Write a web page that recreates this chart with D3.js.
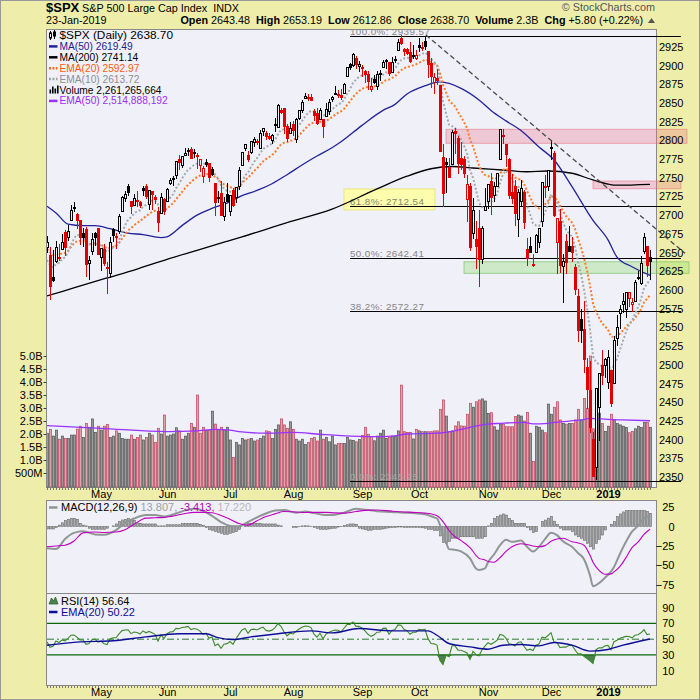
<!DOCTYPE html>
<html>
<head>
<meta charset="utf-8">
<title>$SPX Daily</title>
<script src="https://cdn.jsdelivr.net/npm/d3@7"></script>
<style>
  body { margin: 0; background: #fff; }
  svg text { font-family: "Liberation Sans", Arial, sans-serif; }
</style>
</head>
<body>
<script>
// ---------- data: trading days Apr 5 2018 .. Jan 23 2019 ----------
var monthKeys = ["2018-04","2018-05","2018-06","2018-07","2018-08","2018-09","2018-10","2018-11","2018-12","2019-01"];
var monthDayLists = [
  [5,6,9,10,11,12,13,16,17,18,19,20,23,24,25,26,27,30],
  [1,2,3,4,7,8,9,10,11,14,15,16,17,18,21,22,23,24,25,29,30,31],
  [1,4,5,6,7,8,11,12,13,14,15,18,19,20,21,22,25,26,27,28,29],
  [2,3,5,6,9,10,11,12,13,16,17,18,19,20,23,24,25,26,27,30,31],
  [1,2,3,6,7,8,9,10,13,14,15,16,17,20,21,22,23,24,27,28,29,30,31],
  [4,5,6,7,10,11,12,13,14,17,18,19,20,21,24,25,26,27,28],
  [1,2,3,4,5,8,9,10,11,12,15,16,17,18,19,22,23,24,25,26,29,30,31],
  [1,2,5,6,7,8,9,12,13,14,15,16,19,20,21,23,26,27,28,29,30],
  [3,4,6,7,10,11,12,13,14,17,18,19,20,21,24,26,27,28,31],
  [2,3,4,7,8,9,10,11,14,15,16,17,18,22,23]
];
var monthLabels = ["May","Jun","Jul","Aug","Sep","Oct","Nov","Dec","2019"];
var monthLabelDates = ["2018-05-01","2018-06-01","2018-07-02","2018-08-01","2018-09-04","2018-10-01","2018-11-01","2018-12-03","2019-01-02"];

var opens = [2657.36,2645.82,2617.18,2638.41,2643.89,2653.83,2676.90,2670.10,2692.74,2710.11,
 2701.16,2692.56,2675.40,2680.80,2634.92,2651.65,2675.47,2682.51,2642.96,2654.24,
 2628.08,2621.45,2680.34,2670.26,2678.12,2705.02,2722.70,2738.47,2718.59,2712.62,
 2719.71,2717.35,2735.39,2738.34,2713.98,2730.94,2723.60,2705.11,2702.43,2720.98,
 2718.70,2741.67,2748.46,2753.25,2774.84,2765.84,2780.18,2785.60,2787.94,2783.21,
 2777.78,2765.79,2752.01,2769.73,2769.28,2760.79,2742.94,2722.12,2728.45,2698.69,
 2727.13,2704.95,2733.27,2724.19,2737.68,2765.79,2788.56,2779.82,2783.14,2796.93,
 2797.36,2789.34,2811.35,2809.37,2804.55,2799.17,2820.68,2817.73,2839.29,2842.35,
 2819.00,2809.73,2821.17,2800.48,2829.62,2840.29,2855.92,2856.79,2857.19,2838.90,
 2835.46,2827.88,2827.95,2831.44,2838.32,2853.93,2861.51,2860.99,2860.29,2862.35,
 2884.69,2901.45,2900.62,2908.94,2898.37,2896.96,2891.59,2888.64,2868.26,2881.39,
 2871.57,2888.29,2896.85,2906.38,2903.83,2890.74,2906.60,2919.73,2936.76,2921.83,
 2921.75,2916.98,2911.65,2910.03,2926.29,2923.80,2931.69,2919.35,2902.54,2877.53,
 2882.51,2873.90,2776.87,2770.54,2763.83,2767.05,2811.67,2802.00,2775.66,2773.94,
 2721.03,2737.87,2674.88,2667.86,2682.65,2640.68,2705.60,2717.58,2745.45,2726.37,
 2738.40,2774.13,2806.38,2794.10,2773.93,2730.05,2737.90,2693.52,2718.54,2730.74,
 2654.60,2657.74,2633.36,2649.97,2663.75,2691.45,2736.97,2737.76,2790.50,2782.43,
 2663.51,2691.26,2630.86,2664.44,2658.23,2658.70,2629.68,2590.75,2559.90,2547.05,
 2496.77,2465.38,2400.56,2363.12,2442.50,2498.77,2498.94,2476.96,2491.92,2474.33,
 2535.61,2568.11,2580.00,2573.51,2588.11,2580.31,2585.10,2614.75,2609.28,2651.27,
 2657.88,2643.48];
var highs = [2672.08,2656.88,2653.55,2665.45,2661.43,2674.72,2680.26,2686.49,2713.34,2717.49,
 2702.84,2693.94,2682.86,2683.55,2645.30,2676.48,2677.35,2682.87,2655.27,2660.87,
 2637.14,2670.93,2683.35,2676.34,2701.27,2726.11,2732.86,2742.10,2718.59,2727.76,
 2731.96,2719.50,2739.19,2742.24,2733.33,2731.97,2727.36,2710.67,2729.34,2722.50,
 2736.93,2749.16,2752.61,2772.39,2779.90,2779.39,2790.21,2789.80,2791.47,2789.06,
 2782.81,2774.99,2765.05,2774.86,2769.28,2764.17,2742.94,2732.91,2746.09,2724.34,
 2743.26,2727.26,2736.58,2737.83,2764.41,2784.65,2795.58,2785.91,2799.22,2804.53,
 2801.19,2814.19,2816.76,2812.05,2809.70,2808.61,2829.99,2848.03,2842.88,2843.17,
 2821.74,2824.46,2825.83,2829.91,2840.38,2853.29,2863.43,2862.44,2862.48,2842.20,
 2843.40,2843.11,2827.95,2850.49,2855.63,2859.76,2873.23,2867.54,2868.78,2876.16,
 2898.25,2903.77,2916.50,2912.46,2906.32,2900.18,2894.21,2892.05,2883.81,2886.93,
 2892.52,2894.65,2906.76,2908.30,2904.65,2911.17,2912.36,2934.80,2940.91,2923.79,
 2923.95,2931.15,2927.22,2920.53,2937.06,2931.42,2939.86,2919.78,2909.64,2889.45,
 2894.83,2874.02,2795.14,2775.77,2775.99,2813.46,2816.94,2806.04,2797.77,2778.94,
 2753.59,2742.59,2722.70,2692.38,2706.85,2685.43,2736.69,2741.67,2756.55,2744.27,
 2756.82,2815.15,2814.75,2794.10,2775.99,2754.60,2746.80,2735.38,2746.75,2733.16,
 2669.44,2670.73,2647.55,2674.35,2682.53,2744.00,2753.75,2760.88,2800.18,2785.93,
 2696.15,2708.54,2647.51,2674.35,2685.44,2670.19,2635.07,2601.13,2573.99,2585.29,
 2509.63,2504.41,2410.34,2467.76,2489.10,2520.27,2509.24,2519.49,2493.14,2538.07,
 2566.16,2579.82,2595.32,2597.82,2596.27,2589.32,2613.08,2625.76,2645.06,2675.47,
 2657.88,2653.19];
var lows = [2649.58,2586.27,2610.79,2635.78,2639.25,2653.83,2645.05,2665.16,2692.05,2703.63,
 2681.90,2660.61,2657.99,2617.32,2612.67,2647.16,2659.01,2648.04,2625.41,2631.70,
 2594.62,2615.32,2664.70,2655.20,2674.14,2704.54,2717.45,2725.47,2701.91,2712.17,
 2711.36,2709.18,2725.70,2721.88,2707.10,2707.38,2714.99,2676.81,2702.43,2700.68,
 2718.70,2740.54,2739.51,2748.46,2760.16,2763.59,2780.17,2778.78,2774.65,2776.52,
 2761.73,2757.12,2743.19,2763.91,2744.39,2752.68,2698.67,2715.60,2699.38,2691.99,
 2718.03,2698.95,2711.16,2716.02,2733.52,2765.79,2786.24,2770.77,2781.53,2791.69,
 2793.39,2789.24,2805.89,2799.77,2800.01,2795.14,2811.12,2817.73,2835.57,2808.34,
 2798.11,2808.06,2805.85,2796.34,2827.37,2835.98,2855.92,2853.09,2851.98,2825.81,
 2819.88,2826.58,2802.49,2831.44,2833.73,2850.62,2861.32,2856.05,2854.03,2862.35,
 2884.69,2893.50,2898.40,2895.22,2891.73,2885.13,2876.92,2867.29,2864.12,2875.94,
 2866.78,2879.20,2896.39,2895.77,2886.16,2890.43,2903.82,2919.73,2927.11,2912.63,
 2913.70,2903.28,2909.27,2907.50,2917.91,2919.37,2921.36,2883.92,2869.29,2862.08,
 2874.27,2784.86,2710.51,2729.44,2749.03,2766.91,2781.81,2755.18,2760.27,2749.22,
 2691.43,2651.89,2667.84,2628.16,2603.54,2635.34,2705.60,2708.85,2700.44,2717.94,
 2737.08,2774.13,2794.99,2764.24,2722.00,2714.98,2685.75,2670.75,2712.16,2681.09,
 2631.52,2649.82,2631.09,2649.97,2655.89,2684.38,2722.94,2732.76,2773.38,2697.18,
 2621.53,2623.14,2583.23,2621.30,2650.26,2637.27,2593.84,2530.54,2528.71,2488.96,
 2441.18,2408.55,2351.10,2346.58,2397.94,2472.89,2482.82,2467.47,2443.96,2474.33,
 2524.56,2547.56,2568.89,2562.02,2577.40,2570.41,2585.10,2612.68,2606.36,2647.58,
 2617.27,2612.86];
var closes = [2662.84,2604.47,2613.16,2656.87,2642.19,2663.99,2656.30,2677.84,2706.39,2708.64,
 2693.13,2670.14,2670.29,2634.56,2639.40,2666.94,2669.91,2648.05,2654.80,2635.67,
 2629.73,2663.42,2672.63,2671.92,2697.79,2723.07,2727.72,2730.13,2711.45,2722.46,
 2720.13,2712.97,2733.01,2724.44,2733.29,2727.76,2721.33,2689.86,2724.01,2705.27,
 2734.62,2746.87,2748.80,2772.35,2770.37,2779.03,2782.00,2786.85,2775.63,2782.49,
 2779.66,2773.75,2762.59,2767.32,2749.76,2754.88,2717.07,2723.06,2699.63,2716.31,
 2718.37,2726.71,2713.22,2736.61,2759.82,2784.17,2793.84,2774.02,2798.29,2801.31,
 2798.43,2809.55,2815.62,2804.49,2801.83,2806.98,2820.40,2846.07,2837.44,2818.82,
 2802.60,2816.29,2813.36,2827.22,2840.35,2850.40,2858.45,2857.70,2853.58,2833.28,
 2821.93,2839.96,2818.37,2840.69,2850.13,2857.05,2862.96,2861.82,2856.98,2874.69,
 2896.74,2897.52,2914.04,2901.13,2901.52,2896.72,2888.60,2878.05,2871.68,2877.13,
 2887.89,2888.92,2904.18,2904.98,2888.80,2904.31,2907.95,2930.75,2929.67,2919.37,
 2915.56,2905.97,2914.00,2913.98,2924.59,2923.43,2925.51,2901.61,2885.57,2884.43,
 2880.34,2785.68,2728.37,2767.13,2750.79,2809.92,2809.21,2768.78,2767.78,2755.88,
 2740.69,2656.10,2705.57,2658.69,2641.25,2682.63,2711.74,2740.37,2723.06,2738.31,
 2755.45,2813.89,2806.83,2781.01,2726.22,2722.18,2701.58,2730.20,2736.27,2690.73,
 2641.89,2649.93,2632.56,2673.45,2682.17,2743.79,2737.80,2760.17,2790.37,2700.06,
 2695.95,2633.08,2637.72,2636.78,2651.07,2650.54,2599.95,2545.94,2546.16,2506.96,
 2467.42,2416.62,2351.10,2467.70,2488.83,2485.74,2506.85,2510.03,2447.89,2531.94,
 2549.69,2574.41,2584.96,2596.64,2596.26,2582.61,2610.30,2616.10,2635.96,2670.71,
 2632.90,2638.70];
// volume, billions of shares
var volumes = [2.03,2.18,1.92,2.15,1.80,1.92,1.83,1.83,1.96,1.96,
 2.19,2.30,1.87,2.41,2.26,2.58,2.06,2.30,2.15,2.30,
 2.37,1.87,1.92,2.12,2.03,1.83,1.80,1.80,1.96,1.80,
 1.87,1.96,1.77,1.87,2.03,1.96,1.68,2.22,2.00,2.73,
 1.92,1.96,2.00,2.24,2.12,1.80,1.92,2.03,2.41,2.26,
 3.50,2.03,2.26,2.13,2.13,2.88,2.38,2.18,2.26,2.15,
 2.26,1.77,1.10,1.68,1.58,1.83,1.77,1.80,1.83,1.73,
 1.77,1.83,1.92,2.12,2.09,1.83,2.18,2.35,2.58,2.35,
 2.22,2.47,2.18,1.80,1.73,1.80,1.60,1.67,1.83,1.86,
 1.73,2.15,1.80,1.87,1.70,1.92,1.58,1.64,1.64,1.64,
 1.87,1.77,1.75,1.70,1.79,1.94,2.26,1.99,1.90,1.74,
 1.92,2.03,2.15,1.83,1.87,1.92,1.92,2.12,3.88,2.09,
 2.06,2.06,1.81,2.18,2.12,2.09,2.09,2.09,2.09,2.12,
 2.12,2.95,3.31,2.69,2.09,2.12,2.31,2.47,2.31,2.30,
 2.76,3.18,3.03,3.24,3.31,3.35,3.27,2.79,2.82,2.28,
 2.15,2.38,2.38,2.28,2.28,2.28,2.67,2.73,2.69,2.50,
 2.83,2.03,0.94,2.30,2.26,2.15,2.05,3.15,2.76,3.03,
 3.24,2.54,2.41,2.38,2.41,2.41,2.54,2.95,2.54,3.37,
 2.99,5.00,2.20,2.90,2.80,2.40,2.10,2.30,2.76,2.54,
 2.40,2.35,2.30,2.25,2.05,2.10,2.20,2.30,2.25,2.45,
 2.45,2.26];

// overlays
var ema10 = [2640,2633.5,2629.8,2634.7,2636.1,2641.2,2643.9,2650.1,2660.3,2669.1,
 2673.5,2672.9,2672.4,2665.5,2660.8,2661.9,2663.4,2660.6,2659.5,2655.2,
 2650.6,2652.9,2656.5,2659.3,2666.3,2676.6,2685.9,2693.9,2697.1,2701.7,
 2705.1,2706.5,2711.3,2713.7,2717.3,2719.2,2719.6,2714.2,2716.0,2714.0,
 2717.8,2723.1,2727.8,2735.9,2742.2,2748.9,2754.9,2760.7,2763.4,2766.9,
 2769.2,2770.0,2768.7,2768.4,2765.0,2763.2,2754.8,2749.0,2740.0,2735.7,
 2732.5,2731.5,2728.2,2729.7,2735.2,2744.1,2753.1,2756.9,2764.4,2771.1,
 2776.1,2782.2,2788.3,2791.2,2793.1,2795.6,2800.1,2808.5,2813.8,2814.7,
 2812.5,2813.2,2813.2,2815.7,2820.2,2825.7,2831.7,2836.4,2839.5,2838.4,
 2835.4,2836.2,2833.0,2834.4,2837.3,2840.9,2844.9,2848.0,2849.6,2854.2,
 2861.9,2868.4,2876.7,2881.1,2884.8,2887.0,2887.3,2885.6,2883.1,2882.0,
 2883.1,2884.2,2887.8,2890.9,2890.5,2893.0,2895.7,2902.1,2907.1,2909.3,
 2910.4,2909.6,2910.4,2911.1,2913.6,2915.4,2917.2,2914.4,2909.2,2904.7,
 2900.3,2879.5,2852.0,2836.6,2821.0,2819.0,2817.2,2808.4,2801.0,2792.8,
 2783.3,2760.2,2750.3,2733.6,2716.8,2710.6,2710.8,2716.2,2717.4,2721.2,
 2727.4,2743.1,2754.7,2759.5,2753.4,2747.7,2739.3,2737.6,2737.4,2728.9,
 2713.1,2701.6,2689.1,2686.3,2685.5,2696.1,2703.7,2714.0,2727.9,2722.8,
 2717.9,2702.5,2690.7,2680.9,2675.5,2671.0,2658.1,2637.7,2621.1,2600.4,
 2576.2,2547.2,2511.5,2503.5,2500.8,2498.1,2499.7,2501.6,2491.8,2499.1,
 2508.3,2520.3,2532.1,2543.8,2553.3,2558.6,2568.0,2576.7,2587.5,2602.6,
 2608.1,2613.72];
var ema20 = [2655.0,2650.2,2646.7,2647.7,2647.2,2648.8,2649.5,2652.2,2657.4,2662.3,
 2665.2,2665.7,2666.1,2663.1,2660.8,2661.4,2662.2,2660.9,2660.3,2657.9,
 2655.3,2656.0,2657.6,2659.0,2662.7,2668.4,2674.1,2679.4,2682.5,2686.3,
 2689.5,2691.7,2695.6,2698.4,2701.7,2704.2,2705.8,2704.3,2706.2,2706.1,
 2708.8,2712.4,2715.9,2721.2,2725.9,2731.0,2735.8,2740.7,2744.0,2747.7,
 2750.7,2752.9,2753.8,2755.1,2754.6,2754.6,2751.0,2748.4,2743.7,2741.1,
 2739.0,2737.8,2735.5,2735.6,2737.9,2742.3,2747.2,2749.8,2754.4,2758.9,
 2762.6,2767.1,2771.7,2774.8,2777.4,2780.2,2784.0,2789.9,2794.4,2796.7,
 2797.3,2799.1,2800.5,2803.0,2806.6,2810.8,2815.3,2819.3,2822.6,2823.6,
 2823.4,2825.0,2824.4,2825.9,2828.2,2831.0,2834.0,2836.7,2838.6,2842.0,
 2847.2,2852.0,2857.9,2862.0,2865.8,2868.7,2870.6,2871.3,2871.3,2871.9,
 2873.4,2874.9,2877.7,2880.3,2881.1,2883.3,2885.7,2890.0,2893.7,2896.2,
 2898.0,2898.8,2900.2,2901.5,2903.7,2905.6,2907.5,2906.9,2904.9,2903.0,
 2900.8,2889.8,2874.5,2864.3,2853.5,2849.3,2845.5,2838.2,2831.5,2824.3,
 2816.3,2801.1,2792.0,2779.3,2766.2,2758.2,2753.8,2752.5,2749.7,2748.6,
 2749.3,2755.4,2760.3,2762.3,2758.9,2755.4,2750.3,2748.4,2747.2,2741.8,
 2732.3,2724.5,2715.7,2711.7,2708.9,2712.2,2714.6,2718.9,2725.7,2723.3,
 2720.7,2712.4,2705.3,2698.8,2694.3,2690.1,2681.5,2668.6,2657.0,2642.7,
 2626.0,2606.1,2581.8,2570.9,2563.1,2555.7,2551.1,2547.2,2537.7,2537.2,
 2538.4,2541.8,2545.9,2550.7,2555.1,2557.7,2562.7,2567.8,2574.3,2583.5,
 2588.2,2592.97];
var ma50Days = [0,3,7,12,16,21,27,32,38,40,45,50,55,60,65,70,75,80,85,90,95,98,105,112,116,120,126,131,138,144,148,153,158,164,169,175,182,187,190,195,201];
var ma50Vals = [2712,2703,2688,2686,2686,2682,2676,2674,2670,2671,2686,2700,2709,2716,2726,2733,2742,2754,2767,2779,2790,2798,2820,2840,2848,2862,2873,2878,2869.5,2854,2840,2826,2813,2791,2774,2738,2693,2667,2644,2631,2619.49];
var ma200Days = [0,10,20,30,40,50,60,65,80,95,110,120,128,135,142,153,160,167,175,182,190,201];
var ma200Vals = [2592,2604,2616,2628,2641,2653,2665,2671,2690,2708,2735,2752,2762,2765,2763,2760,2758,2759,2756,2747,2740,2741.14];
var volEmaDays = [0,18,40,50,56,61,64,73,82,91,98,109,115,120,130,137,142,147,151,159,162,167,171,178,181,187,192,201];
var volEmaVals = [2.32,2.22,2.09,2.12,2.18,2.15,2.09,2.03,2.06,1.99,1.94,1.90,1.92,2.00,2.03,2.15,2.28,2.38,2.41,2.45,2.39,2.41,2.47,2.54,2.60,2.56,2.54,2.51];

// MACD(12,26,9)
var macdDays = [0,3,6,9,12,16,19,23,26,29,33,36,39,43,46,49,52,55,58,61,64,67,70,73,76,79,83,86,89,93,96,99,103,106,110,115,119,122,126,129,130,131,132,133,134,136,138,141,143,144,146,147,149,151,153,155,158,160,162,164,166,168,170,172,175,177,179,181,182,184,186,188,189,191,193,195,197,199,201];
var macdVals = [-28,-29,-16,-8,-6,-10,-10.5,-4.5,5,10.5,15,15,13,17,21,23,20.5,14,6,1,0.5,6,12,17,21,21.5,18,19.5,17.5,15,15.5,18,23,22,20,19,18,17.5,16,12,10.5,2,-12,-20,-29,-30,-32,-41,-54,-56,-54,-46,-36,-24,-17,-19.5,-18,-26,-32,-26,-16,-8,-11,-19,-26,-34,-42,-63,-77,-73,-66,-58,-52,-35,-19.5,-6.5,1,10.5,13.807];
var signalVals = [-26,-25,-24,-18.5,-8,-7,-7.5,-7,-4,3,11,11.5,12,14.5,17,18.5,18.5,18,14.5,9.5,4,2,7.5,13,16.5,19.5,19,18.3,18.5,18.5,17.8,17.5,19.5,21,21.5,20,19,18.5,17.5,15.5,14,11,6.5,1,-5,-13,-18,-27,-37,-41,-43,-45,-46,-40,-32,-26,-22,-23,-25,-26,-24.5,-19,-16,-15,-19.5,-21,-24,-37,-46,-56.5,-61.5,-61,-58.5,-51.4,-40,-27,-20,-10,-3.413];
var macdHist = [-3,-3,-3,-1,2,5,8,9.5,10.8,10.8,
 9.5,4.3,2,1,-2,-3.5,-3.5,-3.5,-3.5,-3.5,
 -2,0,1,3.5,6.5,8.6,9.5,10.4,9.5,8,
 5,4.3,3.5,3.5,3.5,3.5,3.5,1,1,1,
 2.5,2.5,2.5,2.5,2.5,4,4,4,4,4.3,
 4,3,1.5,-1,-4,-5,-6.5,-7.5,-8.6,-10,
 -10,-8.6,-7.5,-6.5,-3.5,0,2,4.3,4.3,4.3,
 4.3,4.3,3.5,3.5,3.5,3.5,3.5,2,1,0,
 0,0,-1,-1,0.5,1,1.2,1,0.5,-1,
 -2.5,-3.5,-3.5,-3.5,-3,-2.5,-2,-0.5,0.5,1.5,
 2.5,3.5,3.5,3,-2,-3,-4,-5,-4.5,-3.5,
 -3.5,-3.5,-3,-2,-1.5,-1,-1,-0.5,-0.5,-1,
 -1,-1,-1,-1,-1,-1.5,-2,-3.5,-3.5,-5,
 -5,-12,-20.7,-21.6,-19.4,-15,-15,-15,-13,-13,
 -13,-13,-13,-15,-15,-15,-13,1,4.3,10.8,
 13,15,16.4,15,10.8,7.8,4.3,4.3,4.3,4.3,
 -1,-4.3,-7.8,-6.5,0,6.5,8.5,11,13,7,
 3,-2,-4.3,-4.3,-4.3,-6.5,-10.8,-13,-15,-18,
 -21.6,-26,-29,-21.6,-16.4,-10.8,-4.3,0,3,6.5,
 13,16.4,19,20.7,20.7,20.7,20.7,20.7,20.7,20.7,
 19.4,17.22];

// RSI(14) and its EMA(20)
var rsi = [46.6,39.7,41.1,47.7,45.8,49.0,47.9,51.1,55.1,55.4,
 52.7,49.0,49.0,43.4,44.4,49.4,50.0,46.2,47.5,44.2,
 43.1,50.2,51.9,51.8,56.7,60.9,61.6,62.0,57.1,59.2,
 58.5,56.5,60.6,58.1,59.9,58.2,56.2,47.4,55.5,50.8,
 56.9,59.2,59.6,63.8,63.2,64.8,65.3,66.2,62.2,63.6,
 62.6,60.3,56.1,57.5,51.2,52.8,41.8,43.8,38.3,43.7,
 44.4,47.1,43.5,50.6,56.5,61.7,63.5,57.4,62.2,62.8,
 61.8,64.0,65.3,61.2,60.3,61.5,64.7,69.8,66.3,59.4,
 54.2,57.6,56.6,60.0,63.0,65.2,66.8,66.5,64.7,56.5,
 52.5,57.6,50.6,56.5,58.7,60.3,61.7,61.3,59.3,63.9,
 68.6,68.7,71.9,66.3,66.3,64.2,60.6,56.2,53.6,55.4,
 58.9,59.2,63.8,64.1,56.3,61.2,62.3,68.2,67.7,62.6,
 60.8,56.3,58.9,58.9,62.5,61.9,62.6,50.7,44.6,44.1,
 42.6,23.0,17.7,29.6,27.8,41.7,41.6,36.1,35.9,34.4,
 32.5,24.3,34.7,30.4,29.0,36.6,41.3,45.6,43.5,45.9,
 48.5,56.1,55.1,51.3,44.2,43.7,41.3,45.8,46.7,41.0,
 35.9,37.3,35.5,42.4,43.8,52.6,51.7,54.7,58.3,46.3,
 45.8,39.3,40.0,39.9,42.2,42.1,36.4,31.5,31.6,28.4,
 25.5,22.4,19.2,36.7,39.2,39.0,41.7,42.2,36.6,46.8,
 48.7,51.2,52.3,53.6,53.5,51.7,55.0,55.7,58.1,62.0,
 55.9,56.64];
var rsiEmaDays = [0,11,22,33,44,53,57,62,68,77,88,95,104,115,127,130,134,141,147,152,158,164,169,175,181,187,192,201];
var rsiEmaVals = [42.4,46.6,48,53,57,57,52,49.6,53,57,60.6,58,63.5,60.6,60.6,55,44.5,40.3,37.3,42.4,43.2,41.5,45.8,42.4,34.8,37,42.4,50.22];

// annotations: Fibonacci retracement, boxes, trend line
var fibLabels = ["100.0%","61.8%","50.0%","38.2%","0.0%"];
var fibValues = [2939.57, 2712.54, 2642.41, 2572.27, 2345.25];
var fibSpan = [101, 211.3];
var redZone = {days: [133, 213.3], prices: [2796, 2814.7]};
var redZone2 = {days: [182, 211.3], prices: [2735.3, 2745.6]};
var greenZone = {days: [139, 214], prices: [2622.2, 2637.7]};
var fibNoteBox = {days: [99, 129.3], prices: [2707, 2735]};
var trendDays = [126.3, 212.7];
var trendPrices = [2940.8, 2648.9];

var priceTicks = d3.range(2350, 2926, 25);
var volTicks = [0.5,1,1.5,2,2.5,3,3.5,4,4.5,5];
var macdTicks = [25,0,-25,-50,-75];
var rsiTicks = [90,70,50,30,10];

// ---------- build ----------
var dates = [];
monthKeys.forEach(function(m, k){
  monthDayLists[k].forEach(function(d){ dates.push(m + "-" + (d < 10 ? "0" + d : d)); });
});
var N = dates.length;
var monthIdx = monthLabelDates.map(function(d){ return dates.indexOf(d); });

var BG = "#eeeeaa", PANEL = "#f0f0f8";
var P = {l: 47, r: 656, t: 29, b: 487};
var M = {t: 500, b: 593};
var R = {t: 593, b: 685};

var x = d3.scaleLinear().domain([0, N - 1]).range([47, 650]);
var yP = d3.scaleLinear().domain([2350, 2925]).range([477, 46.8]);
var yV = d3.scaleLinear().domain([0, 5]).range([486, 356]);
var yM = d3.scaleLinear().domain([-75, 25]).range([584.7, 507.3]);
var yR = d3.scaleLinear().domain([10, 90]).range([670.7, 607.7]);

var svg = d3.select("body").append("svg")
  .attr("width", 700).attr("height", 700);

svg.append("rect").attr("width", 700).attr("height", 700).attr("fill", BG);
svg.append("rect").attr("x", 0.5).attr("y", 0.5).attr("width", 699).attr("height", 699)
  .attr("fill", "none").attr("stroke", "#999");

// panels
[[P.t, P.b], [M.t, M.b], [R.t, R.b]].forEach(function(p){
  svg.append("rect").attr("x", 46.5).attr("y", p[0] + 0.5)
    .attr("width", 610).attr("height", p[1] - p[0])
    .attr("fill", PANEL).attr("stroke", "#888");
});

var defs = svg.append("defs");
defs.append("clipPath").attr("id", "clipP").append("rect")
  .attr("x", 47).attr("y", P.t + 1).attr("width", 609).attr("height", P.b - P.t);
defs.append("clipPath").attr("id", "clipM").append("rect")
  .attr("x", 47).attr("y", M.t + 1).attr("width", 609).attr("height", M.b - M.t - 1);
defs.append("clipPath").attr("id", "clipR").append("rect")
  .attr("x", 47).attr("y", R.t + 1).attr("width", 609).attr("height", R.b - R.t - 1);

var upDay = closes.map(function(c, i){ return i === 0 ? true : c >= closes[i - 1]; });

// ---- volume
var gVol = svg.append("g").attr("clip-path", "url(#clipP)");
gVol.selectAll("rect").data(volumes).join("rect")
  .attr("x", function(d, i){ return x(i) - 0.6; })
  .attr("width", 2.2)
  .attr("y", function(d){ return yV(d); })
  .attr("height", function(d){ return yV(0) - yV(d) + 1; })
  .attr("fill", function(d, i){ return upDay[i] ? "#9a9a9a" : "#dca2ae"; })
  .attr("stroke", function(d, i){ return upDay[i] ? "#555" : "#c0485c"; })
  .attr("stroke-width", 0.7);

function sparseLine(days, vals, ys){
  return d3.line().curve(d3.curveMonotoneX)
    .x(function(d, k){ return x(days[k]); })
    .y(function(d){ return ys(d); })(vals);
}
gVol.append("path").attr("d", sparseLine(volEmaDays, volEmaVals, yV))
  .attr("fill", "none").attr("stroke", "#9933ff").attr("stroke-width", 1.3);

// volume axis (left)
var vAx = svg.append("g").attr("transform", "translate(46.5,0)")
  .call(d3.axisLeft(yV).tickValues(volTicks).tickSize(3).tickPadding(1)
    .tickFormat(function(v){ return v < 1 ? "500M" : v.toFixed(1) + "B"; }));
vAx.select(".domain").remove();
vAx.selectAll("line").attr("stroke", "#444");
vAx.attr("font-size", 11).attr("font-family", "Liberation Sans, Arial, sans-serif");

// ---- annotation boxes
function zone(z, fill, stroke){
  svg.append("rect")
    .attr("x", x(z.days[0])).attr("width", x(z.days[1]) - x(z.days[0]))
    .attr("y", yP(z.prices[1])).attr("height", yP(z.prices[0]) - yP(z.prices[1]))
    .attr("fill", fill).attr("stroke", stroke).attr("stroke-width", 1);
}
zone(redZone, "rgba(236,110,130,0.30)", "rgba(230,110,130,0.55)");
zone(redZone2, "rgba(236,110,130,0.30)", "rgba(230,110,130,0.55)");
zone(greenZone, "rgba(140,220,110,0.35)", "rgba(110,190,90,0.6)");
zone(fibNoteBox, "rgba(255,255,160,0.85)", "rgba(230,230,120,0.9)");

// ---- fib lines
var gFib = svg.append("g");
fibValues.forEach(function(v, k){
  var yy = Math.round(yP(v)) + 0.5;
  gFib.append("line").attr("x1", x(fibSpan[0])).attr("x2", x(fibSpan[1]))
    .attr("y1", yy).attr("y2", yy).attr("stroke", "#000").attr("stroke-width", 1);
  gFib.append("text").attr("x", x(fibSpan[0])).attr("y", yy - 1.8)
    .attr("font-size", 9.8).attr("letter-spacing", 0.4)
    .attr("fill", k === 4 ? "#a8a8a8" : (k === 1 ? "#7e8a6e" : "#858585"))
    .text(fibLabels[k] + ": " + v.toFixed(2));
});

// ---- moving averages
var gMA = svg.append("g").attr("clip-path", "url(#clipP)");
gMA.append("path").attr("d", sparseLine(ma200Days, ma200Vals, yP))
  .attr("fill", "none").attr("stroke", "#000").attr("stroke-width", 1.3);
gMA.append("path").attr("d", sparseLine(ma50Days, ma50Vals, yP))
  .attr("fill", "none").attr("stroke", "#22229a").attr("stroke-width", 1.3);
var dailyLine = d3.line().x(function(d, i){ return x(i); }).y(function(d){ return yP(d); });
gMA.append("path").attr("d", dailyLine(ema20))
  .attr("fill", "none").attr("stroke", "#ff7a2a").attr("stroke-width", 2)
  .attr("stroke-dasharray", "2,2");
gMA.append("path").attr("d", dailyLine(ema10))
  .attr("fill", "none").attr("stroke", "#a2aaaa").attr("stroke-width", 2)
  .attr("stroke-dasharray", "2,2");

// ---- candles
var gC = svg.append("g").attr("clip-path", "url(#clipP)").attr("shape-rendering", "crispEdges");
var cg = gC.selectAll("g").data(d3.range(N)).join("g");
function cColor(i){ return upDay[i] ? "#000" : "#e00000"; }
cg.append("line")
  .attr("x1", function(i){ return x(i) + 0.5; }).attr("x2", function(i){ return x(i) + 0.5; })
  .attr("y1", function(i){ return yP(highs[i]); }).attr("y2", function(i){ return yP(lows[i]); })
  .attr("stroke", cColor).attr("stroke-width", 1);
cg.append("rect")
  .attr("x", function(i){ return x(i) - 0.5; }).attr("width", 2)
  .attr("y", function(i){ return yP(Math.max(opens[i], closes[i])); })
  .attr("height", function(i){ return Math.max(1, Math.abs(yP(opens[i]) - yP(closes[i]))); })
  .attr("fill", function(i){ return closes[i] >= opens[i] ? PANEL : cColor(i); })
  .attr("stroke", cColor).attr("stroke-width", 1);

// ---- trend line
svg.append("line")
  .attr("x1", x(trendDays[0])).attr("y1", yP(trendPrices[0]))
  .attr("x2", x(trendDays[1])).attr("y2", yP(trendPrices[1]))
  .attr("stroke", "#4a4a4a").attr("stroke-width", 1.3).attr("stroke-dasharray", "5,3");

// ---- right axes
function rightAxis(scale, ticks, anchorEnd){
  var g = svg.append("g").attr("transform", "translate(656,0)")
    .call(d3.axisRight(scale).tickValues(ticks).tickSize(0).tickPadding(3)
      .tickFormat(d3.format("d")));
  g.select(".domain").remove();
  g.attr("font-size", 11).attr("font-family", "Liberation Sans, Arial, sans-serif");
  if (anchorEnd) g.selectAll("text").attr("text-anchor", "end").attr("x", 18.5);
  return g;
}
rightAxis(yP, priceTicks, false);
rightAxis(yM, macdTicks, true);
rightAxis(yR, rsiTicks, true);

// ---- month axes + day ticks
function monthAxis(yy){
  var g = svg.append("g").attr("transform", "translate(0," + yy + ")")
    .call(d3.axisBottom(x).tickValues(monthIdx).tickSize(0).tickPadding(3)
      .tickFormat(function(d, k){ return monthLabels[k]; }));
  g.select(".domain").remove();
  g.attr("font-size", 11).attr("font-family", "Liberation Sans, Arial, sans-serif");
  g.selectAll("text").attr("font-weight", function(d, k){ return monthLabels[k] === "2019" ? "bold" : null; });
  var t = svg.append("g").attr("shape-rendering", "crispEdges");
  t.selectAll("line").data(d3.range(N)).join("line")
    .attr("x1", function(i){ return x(i) + 0.5; }).attr("x2", function(i){ return x(i) + 0.5; })
    .attr("y1", yy).attr("y2", yy + 2).attr("stroke", "#777");
}
monthAxis(P.b + 0.5);
monthAxis(R.b + 0.5);

// ---- MACD panel
var gM = svg.append("g").attr("clip-path", "url(#clipM)");
gM.selectAll("rect").data(macdHist).join("rect")
  .attr("x", function(d, i){ return x(i) - 0.5; }).attr("width", 2)
  .attr("y", function(d){ return Math.min(yM(d), yM(0)); })
  .attr("height", function(d){ return Math.abs(yM(d) - yM(0)); })
  .attr("fill", "#a8acac").attr("stroke", "#6a6a6a").attr("stroke-width", 0.6);
gM.append("path").attr("d", sparseLine(macdDays, macdVals, yM))
  .attr("fill", "none").attr("stroke", "#8f9696").attr("stroke-width", 2);
gM.append("path").attr("d", sparseLine(macdDays, signalVals, yM))
  .attr("fill", "none").attr("stroke", "#c000c0").attr("stroke-width", 1.1);

// ---- RSI panel
var gR = svg.append("g").attr("clip-path", "url(#clipR)");
gR.append("path")
  .attr("d", d3.area().x(function(d, i){ return x(i); })
    .y0(yR(30)).y1(function(d){ return yR(Math.min(d, 30)); })(rsi))
  .attr("fill", "#4f7f4f");
gR.append("path")
  .attr("d", d3.area().x(function(d, i){ return x(i); })
    .y0(yR(70)).y1(function(d){ return yR(Math.max(d, 70)); })(rsi))
  .attr("fill", "#4f7f4f");
[70, 30].forEach(function(v){
  gR.append("line").attr("x1", 47).attr("x2", 656).attr("y1", yR(v)).attr("y2", yR(v))
    .attr("stroke", "#0a6a0a").attr("stroke-width", 1.2);
});
gR.append("line").attr("x1", 47).attr("x2", 656).attr("y1", yR(50)).attr("y2", yR(50))
  .attr("stroke", "#2a7a2a").attr("stroke-width", 1).attr("stroke-dasharray", "7,3,2,3");
gR.append("path").attr("d", d3.line().x(function(d, i){ return x(i); }).y(function(d){ return yR(d); })(rsi))
  .attr("fill", "none").attr("stroke", "#3c8a2c").attr("stroke-width", 1.1);
gR.append("path").attr("d", sparseLine(rsiEmaDays, rsiEmaVals, yR))
  .attr("fill", "none").attr("stroke", "#0c0c96").attr("stroke-width", 1.4);

// ---------- legends ----------
function legendText(xx, yy, parts, size){
  var t = svg.append("text").attr("x", xx).attr("y", yy).attr("font-size", size || 11)
    .style("white-space", "pre");
  parts.forEach(function(p){
    var s = t.append("tspan").text(p[0]).attr("fill", p[1] || "#000");
    if (p[2]) s.attr("font-weight", "bold");
  });
  return t;
}
function swatch(yy, color, dash){
  var l = svg.append("line").attr("x1", 49).attr("x2", 57.5).attr("y1", yy).attr("y2", yy)
    .attr("stroke", color).attr("stroke-width", 2.5);
  if (dash) l.attr("stroke-dasharray", dash);
}
var L0 = 39, LS = 10.9, LF = 10.2;
// candle icon
svg.append("line").attr("x1", 50.5).attr("x2", 50.5).attr("y1", L0 - 8).attr("y2", L0 + 1).attr("stroke", "#000");
svg.append("rect").attr("x", 49.5).attr("y", L0 - 6).attr("width", 2).attr("height", 5).attr("fill", "#fff").attr("stroke", "#000");
svg.append("line").attr("x1", 54.5).attr("x2", 54.5).attr("y1", L0 - 9).attr("y2", L0).attr("stroke", "#000");
svg.append("rect").attr("x", 53.5).attr("y", L0 - 7).attr("width", 2).attr("height", 4).attr("fill", "#000").attr("stroke", "#000");
legendText(59.5, L0, [["$SPX (Daily) 2638.70"]], 11.8);
swatch(L0 + LS - 3.5, "#22229a");
legendText(59.5, L0 + LS, [["MA(50) 2619.49", "#1c1c8c"]], LF);
swatch(L0 + 2 * LS - 3.5, "#000");
legendText(59.5, L0 + 2 * LS, [["MA(200) 2741.14"]], LF);
swatch(L0 + 3 * LS - 3.5, "#ff6a1a", "2,1.5");
legendText(59.5, L0 + 3 * LS, [["EMA(20) 2592.97", "#ff5a10"]], LF);
swatch(L0 + 4 * LS - 3.5, "#9aa2a2", "2,1.5");
legendText(59.5, L0 + 4 * LS, [["EMA(10) 2613.72", "#8c9090"]], LF);
[[49.5, 4], [52, 7], [54.5, 5], [57, 8]].forEach(function(b){
  svg.append("rect").attr("x", b[0]).attr("y", L0 + 5 * LS - b[1]).attr("width", 1.6).attr("height", b[1]).attr("fill", "#000");
});
legendText(59.5, L0 + 5 * LS, [["Volume 2,261,265,664"]], LF);
swatch(L0 + 6 * LS - 3.5, "#9933ff");
legendText(59.5, L0 + 6 * LS, [["EMA(50) 2,514,888,192", "#9a30f0"]], LF);

// MACD legend
swatch(507.5, "#8f9696");
legendText(61, 511, [["MACD(12,26,9) "], ["13.807, ", "#9aa0a0"], ["-3.413, ", "#b000b0"], ["17.220", "#b4b8b8"]], 11);

// RSI legend
svg.append("path").attr("d", "M49,604 L51.5,598 L53.5,601 L55.5,597 L58,604 Z")
  .attr("fill", "#4f7f4f").attr("stroke", "#2a6a2a").attr("stroke-width", 0.8);
legendText(61, 604.5, [["RSI(14) 56.64"]], 11);
svg.append("line").attr("x1", 49).attr("x2", 57.5).attr("y1", 612).attr("y2", 612)
  .attr("stroke", "#0c0c96").attr("stroke-width", 2.5);
legendText(61, 615.5, [["EMA(20) 50.22", "#0c0c96"]], 11);

// ---------- header ----------
legendText(46, 11.5, [["$SPX", "#000", true]], 13);
legendText(82, 11.5, [["S&P 500 Large Cap Index  INDX"]], 10.8);
legendText(46, 24, [["23-Jan-2019"]], 10.8);
legendText(646, 24, [
  ["Open", "#000", true], [" 2643.48  "],
  ["High", "#000", true], [" 2653.19  "],
  ["Low", "#000", true], [" 2612.86  "],
  ["Close", "#000", true], [" 2638.70  "],
  ["Volume", "#000", true], [" 2.3B  "],
  ["Chg", "#000", true], [" +5.80 (+0.22%) "]
], 10.8).attr("text-anchor", "end");
svg.append("path").attr("d", "M648,23 L651.5,18 L655,23 Z").attr("fill", "#555");
legendText(655, 11, [["\u00A9 StockCharts.com", "#555"]], 10.8).attr("text-anchor", "end");
</script>
</body>
</html>
